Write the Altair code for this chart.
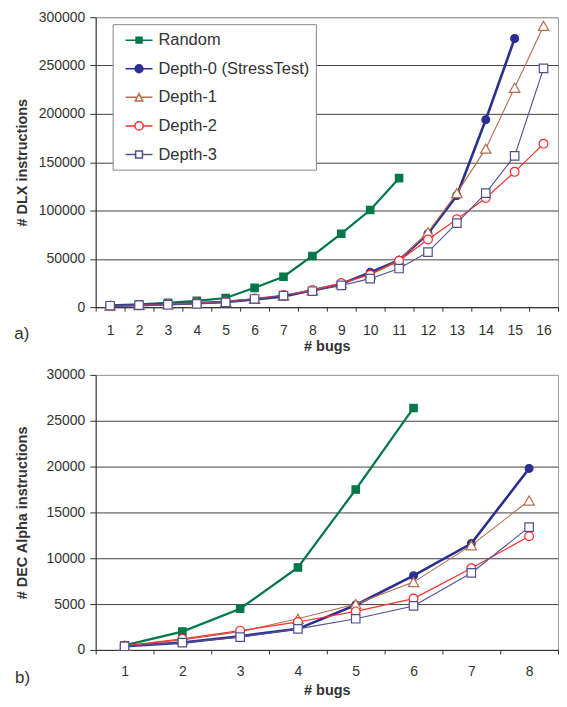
import altair as alt
import pandas as pd

SERIES = ["Random", "Depth-0 (StressTest)", "Depth-1", "Depth-2", "Depth-3"]
COLORS = ["#00784a", "#2c2f92", "#b66c4a", "#ff2d2d", "#505090"]
FILLS = ["#00784a", "#2c2f92", "white", "white", "white"]
LINE_W = [2.2, 2.6, 1.1, 1.2, 1.1]
SHAPES = ["square", "circle", "triangle-up", "circle", "square"]
SIZES = [55, 62, 110, 78, 72]

# ---- a) DLX ----
dlx_bugs = list(range(1, 17))
dlx_random = [2000, 3000, 4500, 6500, 9500, 20000, 31500, 53000, 76000, 100500, 133500]
dlx_depth0 = [1500, 2000, 3000, 4000, 5500, 8000, 11000, 17500, 24000, 36000, 48500,
              76000, 115500, 194000, 278000]
dlx_depth1 = [1500, 2000, 3000, 4000, 5500, 8500, 12000, 17500, 24500, 34000, 48500,
              77500, 118000, 164000, 227000, 291000]
dlx_depth2 = [1500, 2000, 3000, 4000, 5500, 9000, 12500, 17500, 25000, 33500, 48000,
              70000, 91000, 113000, 140000, 169000]
dlx_depth3 = [1500, 2000, 2500, 3500, 5000, 8500, 12000, 16500, 22500, 29500, 40000,
              57000, 87000, 118000, 156500, 247000]

# ---- b) DEC Alpha ----
alpha_bugs = list(range(1, 9))
alpha_random = [500, 2000, 4500, 9000, 17500, 26400]
alpha_depth0 = [400, 800, 1500, 2300, 4900, 8100, 11600, 19800]
alpha_depth1 = [450, 1100, 2000, 3400, 5000, 7400, 11400, 16300]
alpha_depth2 = [450, 1200, 2100, 3050, 4200, 5600, 8900, 12400]
alpha_depth3 = [400, 800, 1400, 2300, 3400, 4800, 8400, 13400]


def frame(series_lists):
    rows = []
    for name, vals in zip(SERIES, series_lists):
        for i, v in enumerate(vals):
            rows.append({"bugs": i + 1, "value": v, "series": name})
    return pd.DataFrame(rows)


def legend_paths():
    s, L, R = 1.167, -0.333, 2.667
    f = lambda v: f"{v:.3f}"
    m = 0.33
    sq_f = f"M-1,0M{f(L)},0H{f(R)}M{f(s-m)},{f(-m)}H{f(s+m)}V{f(m)}H{f(s-m)}Z"
    r = 0.44
    ci_f = (f"M-1,0M{f(L)},0H{f(R)}M{f(s-r)},0A{r},{r},0,1,0,{f(s+r)},0"
            f"A{r},{r},0,1,0,{f(s-r)},0Z")
    hw, h = 0.42, 0.42
    tri = (f"M-1,0M{f(L)},0H{f(s-hw/2)}M{f(s+hw/2)},0H{f(R)}"
           f"M{f(s)},{f(-h)}L{f(s+hw)},{f(h)}L{f(s-hw)},{f(h)}Z")
    r2 = 0.46
    ci_o = (f"M-1,0M{f(L)},0H{f(s-r2)}M{f(s+r2)},0H{f(R)}M{f(s-r2)},0"
            f"A{r2},{r2},0,1,0,{f(s+r2)},0A{r2},{r2},0,1,0,{f(s-r2)},0Z")
    m2 = 0.38
    sq_o = (f"M-1,0M{f(L)},0H{f(s-m2)}M{f(s+m2)},0H{f(R)}"
            f"M{f(s-m2)},{f(-m2)}H{f(s+m2)}V{f(m2)}H{f(s-m2)}Z")
    return [sq_f, ci_f, tri, ci_o, sq_o]


def panel(df, bugs, ymax, ystep, w, h, ytitle, ytitle_pad, lab_pad, xt_pad,
          lx, ly, row_pad, tag, tag_dy):
    x = alt.X("bugs:O", scale=alt.Scale(type="band", domain=bugs, paddingInner=0, paddingOuter=0),
              axis=alt.Axis(title="# bugs", labelAngle=0, tickBand="extent", tickSize=4,
                            labelPadding=lab_pad, titlePadding=xt_pad, grid=False))
    y = alt.Y("value:Q", scale=alt.Scale(domain=[0, ymax], nice=False),
              axis=alt.Axis(title=ytitle, values=list(range(0, ymax + 1, ystep)), format="d",
                            tickSize=6, labelPadding=5, titlePadding=ytitle_pad,
                            gridColor={"condition": {"test": f"datum.value >= {ymax}", "value": "#a0a0a0"},
                                       "value": "#404040"}))
    layers = []
    for i, name in enumerate(SERIES):
        base = alt.Chart(df).transform_filter(alt.datum.series == name)
        layers.append(base.mark_line(color=COLORS[i], strokeWidth=LINE_W[i]).encode(x=x, y=y))
        layers.append(base.mark_point(shape=SHAPES[i], size=SIZES[i], fill=FILLS[i], stroke=COLORS[i],
                                      strokeWidth=1.2, opacity=1, filled=False).encode(x=x, y=y))
    leg = alt.Legend(title=None, orient="none", legendX=lx, legendY=ly, padding=6, rowPadding=row_pad,
                     labelOffset=20, symbolSize=324, symbolStrokeWidth=1.5, labelFontSize=16.5,
                     labelFont="Liberation Sans", labelColor="#333", strokeColor="#888",
                     fillColor="white", labelLimit=400)
    legend_layer = alt.Chart(df).mark_point(size=0, opacity=1, filled=False).encode(
        x=x, y=y,
        shape=alt.Shape("series:N", scale=alt.Scale(domain=SERIES, range=legend_paths()), legend=leg),
        fill=alt.Fill("series:N", scale=alt.Scale(domain=SERIES, range=FILLS), legend=leg),
        stroke=alt.Stroke("series:N", scale=alt.Scale(domain=SERIES, range=COLORS), legend=leg),
    )
    layers.append(legend_layer)
    return alt.layer(*layers).properties(
        width=w, height=h,
        title=alt.TitleParams(tag, orient="bottom", anchor="start", frame="bounds", fontSize=17,
                              fontWeight="normal", font="Liberation Sans", color="#333",
                              dy=tag_dy, dx=0, offset=0),
    )


top = panel(frame([dlx_random, dlx_depth0, dlx_depth1, dlx_depth2, dlx_depth3]), dlx_bugs,
            300000, 50000, 464, 291, "# DLX instructions", 9, 12, 2, 17, 7, 9.7, "a)", -27)
bottom = panel(frame([alpha_random, alpha_depth0, alpha_depth1, alpha_depth2, alpha_depth3]), alpha_bugs,
               30000, 5000, 464, 276, "# DEC Alpha instructions", 16, 11, 5, 10, 9, 8.9, "b)", -27)

chart = alt.vconcat(top, bottom, spacing=14).properties(
    padding={"left": 5, "top": 0, "right": 0, "bottom": 0}
).configure_view(stroke="#a0a0a0", strokeWidth=1).configure_axis(
    domainColor="#333", tickColor="#333", labelColor="#333", titleColor="#333",
    labelFont="Liberation Sans", titleFont="Liberation Sans", labelFontSize=14,
    titleFontSize=14.5, titleFontWeight="bold",
)

chart.save("out.html", embed_options={"renderer": "svg", "actions": False})
